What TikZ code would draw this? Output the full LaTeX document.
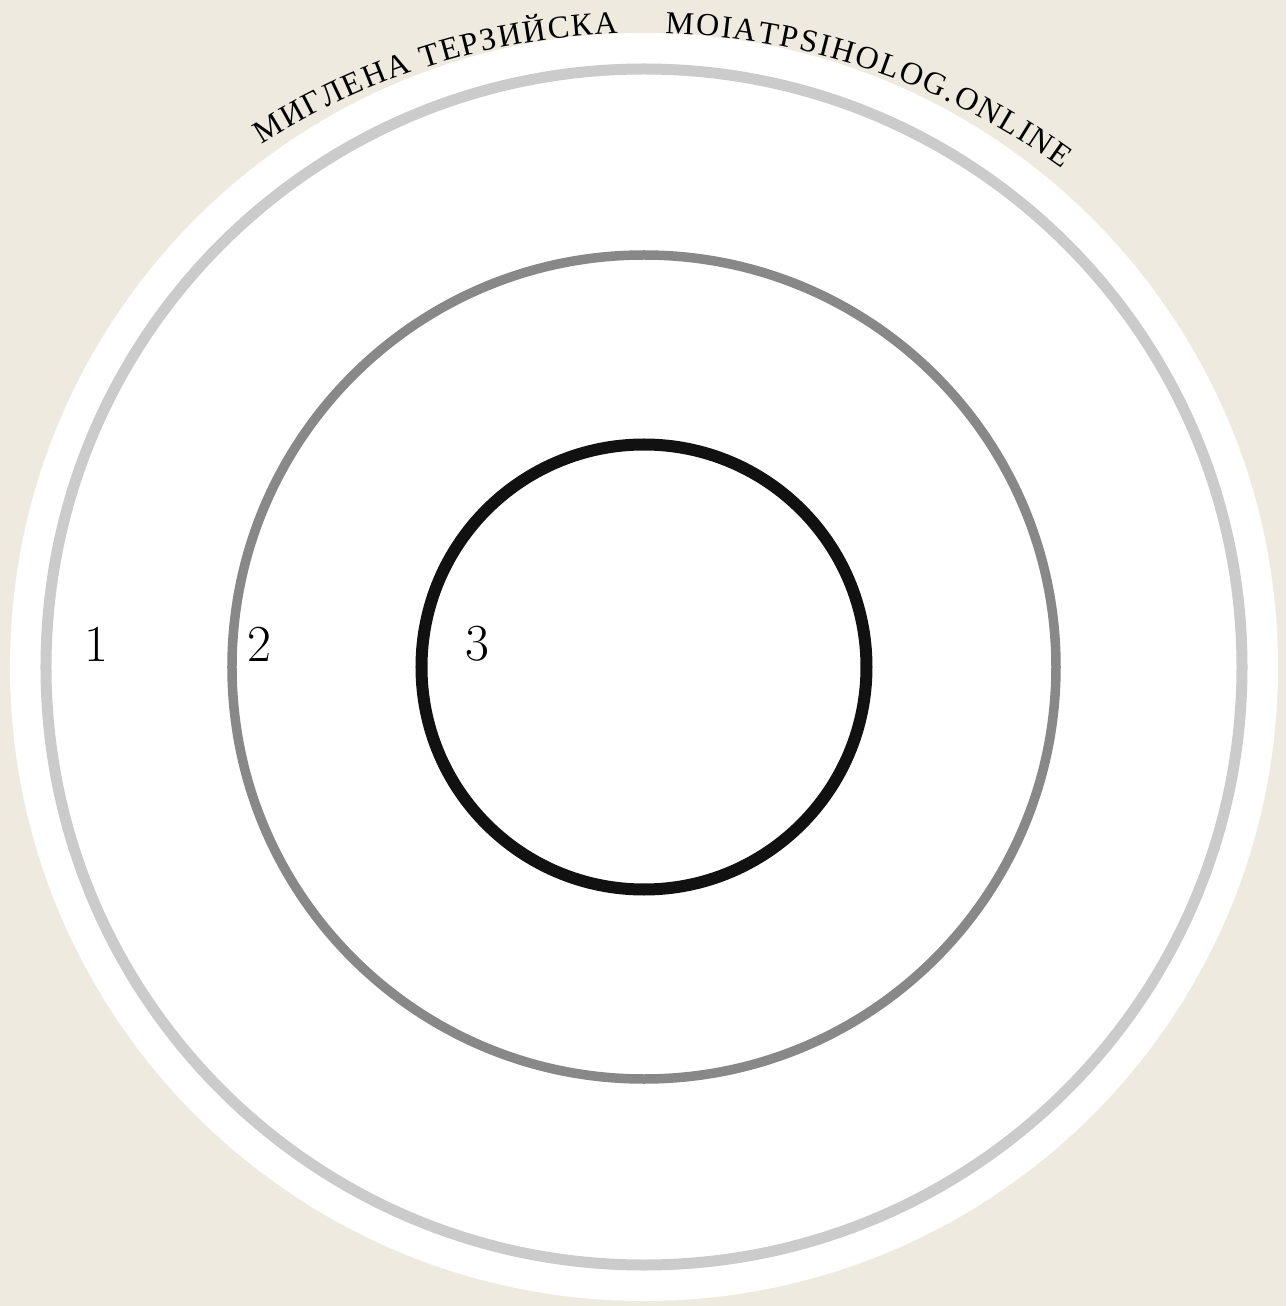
\documentclass[tikz,border=0pt]{standalone}
\usepackage{fontspec}
\newfontfamily\arcfont{Liberation Serif}
\usepackage{xcolor}
\definecolor{paper}{HTML}{EEEAE0}
\definecolor{ringlight}{HTML}{CBCBCB}
\definecolor{ringmid}{HTML}{888888}
\definecolor{ringdark}{HTML}{111111}
\usepackage{tikz}
\usetikzlibrary{decorations.text}

\begin{document}
\begin{tikzpicture}[
  ring/.style={draw, line width=5pt},
  num/.style={font=\fontsize{26}{30}\selectfont, inner sep=0pt},
  arclabel/.style={decorate, decoration={text along path, text align={fit to path},
    text={|\arcfont\fontsize{16}{18}\selectfont|#1}}},
]
% Canvas
\fill[paper] (-322pt,-319.5pt) rectangle (321pt,333.5pt);
\useasboundingbox (-322pt,-319.5pt) rectangle (321pt,333.5pt);
\coordinate (c) at (0,0);
\coordinate (tc) at (0,-39pt);

% Disc and rings
\fill[white] (c) circle[radius=317pt];
\draw[ring, ringlight, line width=5.5pt] (c) circle[radius=299pt];
\draw[ring, ringmid, line width=4.75pt] (c) circle[radius=206pt];
\draw[ring, ringdark, line width=6pt] (c) circle[radius=111.25pt];

% Zone numbers
\node[num] (l1) at (-274pt,11.5pt) {1};
\node[num] (l2) at (-192.5pt,11.5pt) {2};
\node[num] (l3) at (-83.5pt,11.5pt) {3};

% Text on the arc
\path[arclabel={МИГЛЕНА ТЕРЗИЙСКА}] (tc) ++(122.5:356pt) arc[start angle=122.5, end angle=92.1, radius=356pt];
\path[arclabel={MOIATPSIHOLOG.ONLINE}] (tc) ++(88.3:356pt) arc[start angle=88.3, end angle=54, radius=356pt];
\end{tikzpicture}
\end{document}
